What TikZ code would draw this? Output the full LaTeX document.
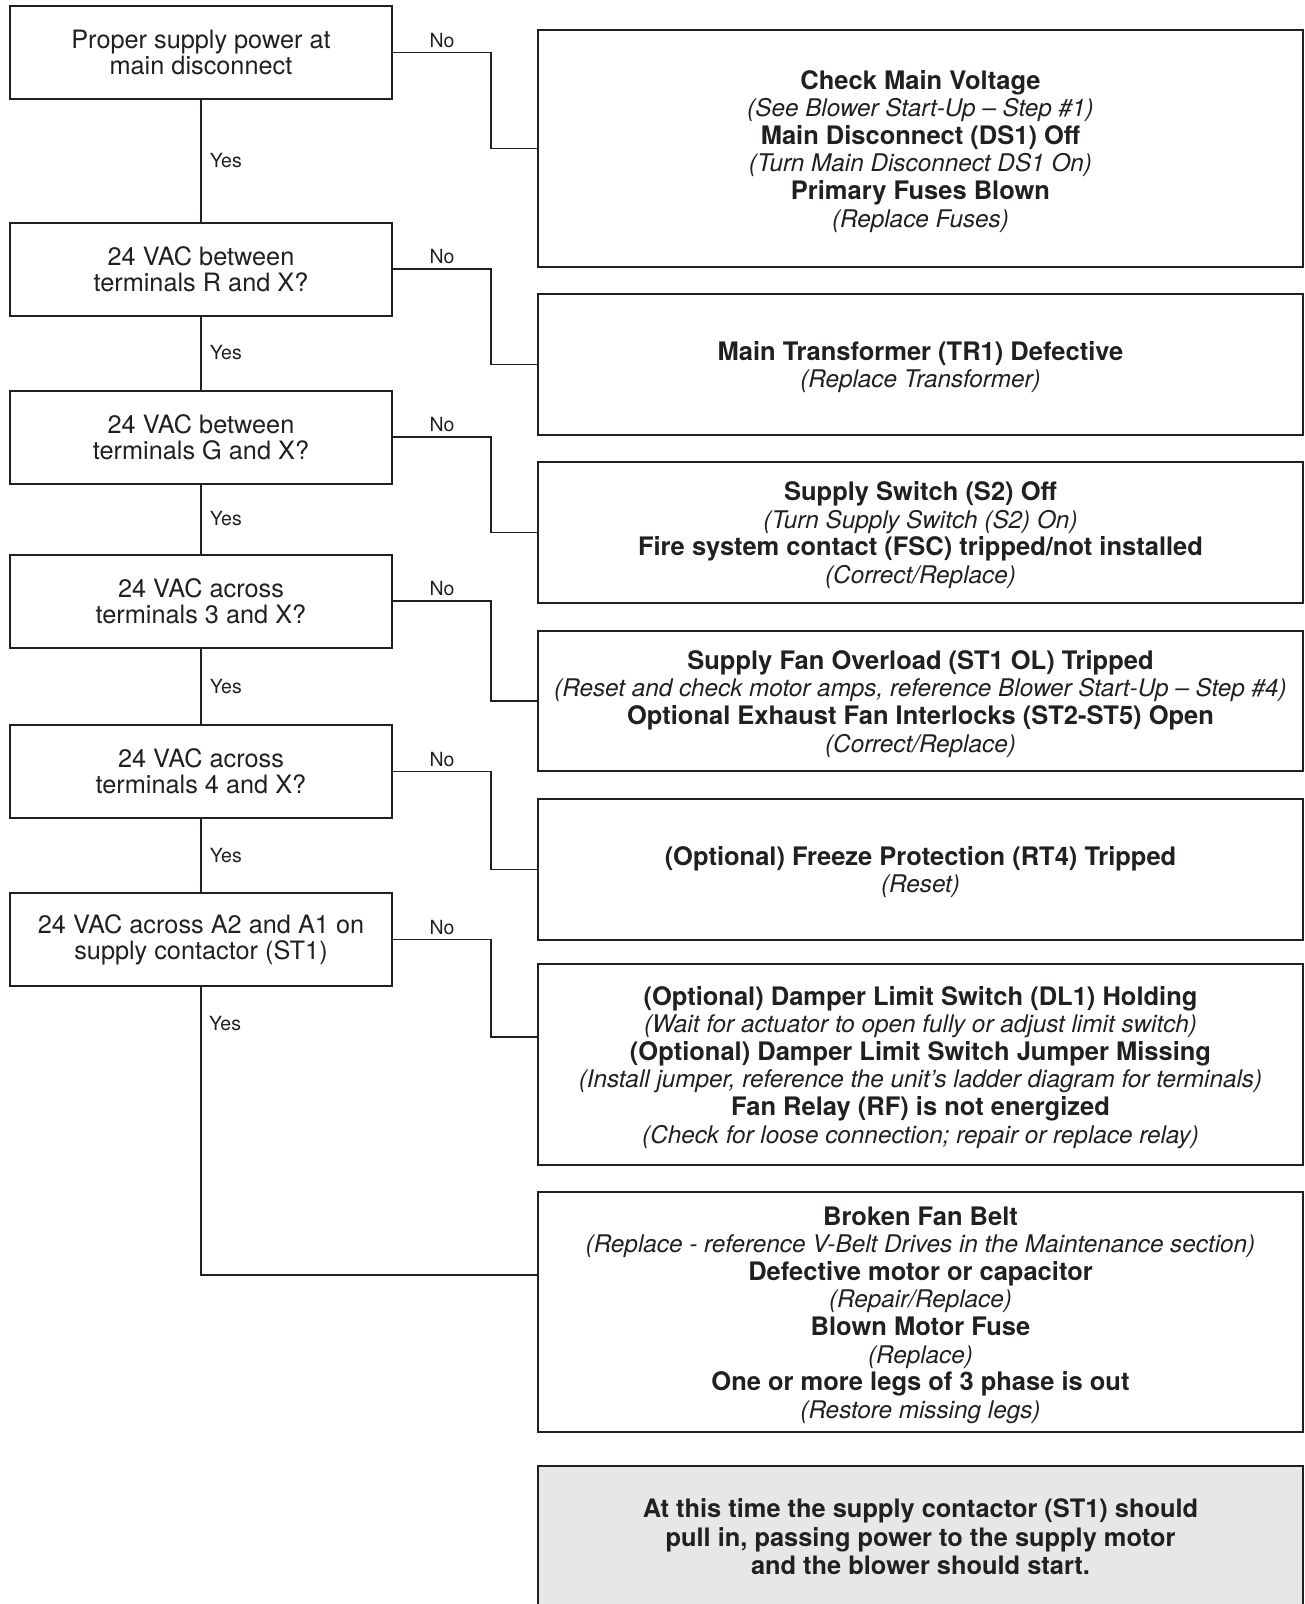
\documentclass[tikz,border=0pt]{standalone}
\usepackage{fontspec}
\setmainfont{TeX Gyre Heros}
\definecolor{ink}{HTML}{231F20}
\definecolor{graybox}{HTML}{E6E7E8}
\newcommand{\hb}[1]{{\fontsize{25.5}{27.6}\selectfont\bfseries #1}}
\newcommand{\hi}[1]{{\fontsize{24.3}{27.6}\selectfont\itshape #1}}
\newcommand{\topstrut}{\rule{0pt}{24.5pt}}
\begin{document}
\begin{tikzpicture}[x=1pt,y=-1pt,
  q/.style={draw=ink, line width=2pt, minimum width=382pt, minimum height=93pt, inner sep=0pt, align=center, font=\fontsize{25.3}{26}\selectfont, text=ink},
  r/.style={draw=ink, line width=2pt, minimum width=765pt, inner sep=0pt, align=center, font=\fontsize{24}{27.6}\selectfont, text=ink},
  conn/.style={draw=ink, line width=1.8pt},
  lab/.style={font=\fontsize{19.5}{21}\selectfont, text=ink, inner sep=0pt},
]
\useasboundingbox (0,0) rectangle (1305,1604);

% question boxes
\node[q] (B1) at (201,52.5) {Proper supply power at\\main disconnect};
\node[q] (B2) at (201,269) {24 VAC between\\terminals R and X?};
\node[q] (B3) at (201,437) {24 VAC between\\terminals G and X?};
\node[q] (B4) at (201,601) {24 VAC across\\terminals 3 and X?};
\node[q] (B5) at (201,771.5) {24 VAC across\\terminals 4 and X?};
\node[q] (B6) at (201,939.5) {24 VAC across A2 and A1 on\\supply contactor (ST1)};

% result boxes
\node[r, minimum height=237pt] (R1) at (920.5,148.5) {\topstrut\hb{Check Main Voltage}\\\hi{(See Blower Start-Up – Step \#1)}\\\hb{Main Disconnect (DS1) Off}\\\hi{(Turn Main Disconnect DS1 On)}\\\hb{Primary Fuses Blown}\\\hi{(Replace Fuses)}};
\node[r, minimum height=141pt] (R2) at (920.5,364.5) {\topstrut\hb{Main Transformer (TR1) Defective}\\\hi{(Replace Transformer)}};
\node[r, minimum height=141pt] (R3) at (920.5,532.5) {\topstrut\hb{Supply Switch (S2) Off}\\\hi{(Turn Supply Switch (S2) On)}\\\hb{Fire system contact (FSC) tripped/not installed}\\\hi{(Correct/Replace)}};
\node[r, minimum height=140pt] (R4) at (920.5,701) {\topstrut\hb{Supply Fan Overload (ST1 OL) Tripped}\\\hi{(Reset and check motor amps, reference Blower Start-Up – Step \#4)}\\\hb{Optional Exhaust Fan Interlocks (ST2-ST5) Open}\\\hi{(Correct/Replace)}};
\node[r, minimum height=141pt] (R5) at (920.5,869.5) {\topstrut\hb{(Optional) Freeze Protection (RT4) Tripped}\\\hi{(Reset)}};
\node[r, minimum height=201pt] (R6) at (920.5,1064.5) {\topstrut\hb{(Optional) Damper Limit Switch (DL1) Holding}\\\hi{(Wait for actuator to open fully or adjust limit switch)}\\\hb{(Optional) Damper Limit Switch Jumper Missing}\\\hi{(Install jumper, reference the unit’s ladder diagram for terminals)}\\\hb{Fan Relay (RF) is not energized}\\\hi{(Check for loose connection; repair or replace relay)}};
\node[r, minimum height=240pt] (R7) at (920.5,1312) {\topstrut\hb{Broken Fan Belt}\\\hi{(Replace - reference V-Belt Drives in the Maintenance section)}\\\hb{Defective motor or capacitor}\\\hi{(Repair/Replace)}\\\hb{Blown Motor Fuse}\\\hi{(Replace)}\\\hb{One or more legs of 3 phase is out}\\\hi{(Restore missing legs)}};
\node[r, fill=graybox, minimum height=142pt, font=\bfseries\fontsize{25.4}{28.6}\selectfont] (G) at (920.5,1537) {At this time the supply contactor (ST1) should\\pull in, passing power to the supply motor\\and the blower should start.};

\coordinate (k6) at (538,1037);
\coordinate (k7) at (538,1275);

% yes connectors
\draw[conn] (B1.south) -- node[lab, right=8pt]{Yes} (B2.north);
\draw[conn] (B2.south) -- node[lab, right=8pt]{Yes} (B3.north);
\draw[conn] (B3.south) -- node[lab, right=8pt]{Yes} (B4.north);
\draw[conn] (B4.south) -- node[lab, right=8pt]{Yes} (B5.north);
\draw[conn] (B5.south) -- node[lab, right=8pt]{Yes} (B6.north);
\draw[conn] (B6.south) |- (k7);
\node[lab, anchor=west] (Y6) at (209,1024) {Yes};

% no connectors
\draw[conn] (B1.east) -- node[lab, above=4pt]{No} ++(98,0) |- (R1.west);
\draw[conn] (B2.east) -- node[lab, above=4pt]{No} ++(98,0) |- (R2.west);
\draw[conn] (B3.east) -- node[lab, above=4pt]{No} ++(98,0) |- (R3.west);
\draw[conn] (B4.east) -- node[lab, above=4pt]{No} ++(98,0) |- (R4.west);
\draw[conn] (B5.east) -- node[lab, above=4pt]{No} ++(98,0) |- (R5.west);
\draw[conn] (B6.east) -- node[lab, above=4pt]{No} ++(98,0) |- (k6);
\end{tikzpicture}
\end{document}
